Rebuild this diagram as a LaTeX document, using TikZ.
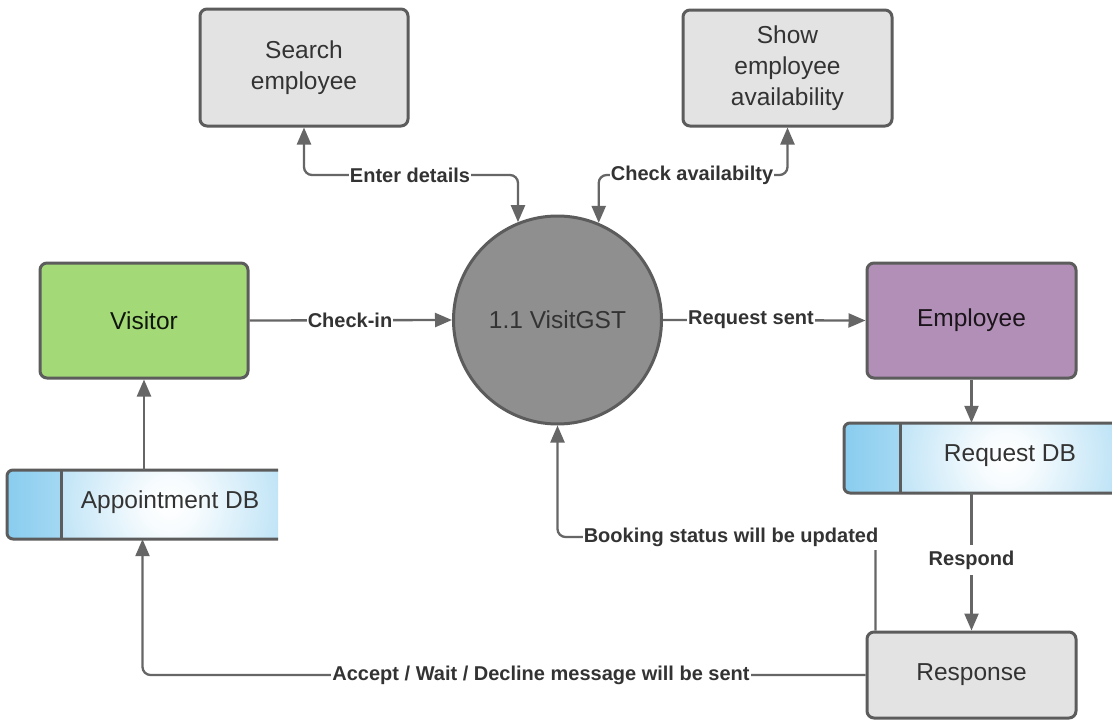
\documentclass[tikz,border=0pt]{standalone}
\usepackage{fontspec}
\setmainfont{Liberation Sans}
\usetikzlibrary{arrows.meta,calc}
\definecolor{bord}{HTML}{5C5C5C}
\definecolor{flowc}{HTML}{666666}
\definecolor{txt}{HTML}{333333}
\definecolor{boxgray}{HTML}{E3E3E3}
\definecolor{visgreen}{HTML}{A3D977}
\definecolor{emppurple}{HTML}{B28FB6}
\definecolor{circgray}{HTML}{8F8F8F}
\definecolor{dbblue}{HTML}{7CC7ED}
\pgfdeclareradialshading{dbshade}{\pgfpoint{0bp}{0bp}}{color(0bp)=(white); color(6bp)=(white!94!dbblue); color(50bp)=(dbblue)}
\begin{document}
\begin{tikzpicture}[x=1pt,y=-1pt,
  boxstyle/.style={draw=bord, line width=3pt, rounded corners=7pt, minimum width=209pt,
    minimum height=116pt, inner sep=0pt, align=center, text=txt,
    font=\fontsize{24.5}{31}\selectfont},
  circstyle/.style={circle, draw=bord, line width=3pt, fill=circgray, minimum size=208pt,
    inner sep=0pt, text=txt, font=\fontsize{24.5}{31}\selectfont},
  ghost/.style={draw=none, inner sep=0pt},
  dbtext/.style={text=txt, inner sep=0pt, font=\fontsize{24.5}{31}\selectfont},
  lab/.style={fill=white, inner xsep=1pt, inner ysep=2pt, text=txt,
    font=\bfseries\fontsize{20}{22}\selectfont},
  flow/.style={draw=flowc, line width=2.3pt, rounded corners=8pt,
    -{Triangle[length=17pt,width=14pt]}},
  flowboth/.style={draw=flowc, line width=2.3pt, rounded corners=8pt,
    {Triangle[length=17pt,width=14pt]}-{Triangle[length=17pt,width=14pt]}},
  dbborder/.style={draw=bord, line width=3pt}
]
\useasboundingbox (0,0) rectangle (1112,720);
\fill[white] (0,0) rectangle (1112,720);

% ---- boxes ----
\node[boxstyle, fill=boxgray, minimum width=208pt, minimum height=117pt] (search) at (304,67.5) {Search\\employee};
\node[boxstyle, fill=boxgray] (show) at (787.5,68) {Show\\employee\\availability};
\node[boxstyle, fill=visgreen, minimum width=208pt, minimum height=115pt, text=black!75!visgreen!40!black] (vis) at (144,320.5) {Visitor};
\node[boxstyle, fill=emppurple, minimum height=115pt, text=black!70!emppurple!50!black] (emp) at (971.5,320.5) {Employee};
\node[boxstyle, fill=boxgray, minimum height=86pt] (resp) at (971.5,675) {Response};
\node[circstyle] (circ) at (557.5,320) {1.1 VisitGST};

% ---- Appointment DB (data store) ----
\begin{scope}
  \clip (7,470) rectangle (278,539);
  \clip[rounded corners=6pt] (7,470) rectangle (300,539);
  \shade[left color=dbblue!90, right color=dbblue!70] (7,470) rectangle (61,539);
  \shade[shading=dbshade] (61,396) rectangle (278,613);
\end{scope}
\draw[dbborder, rounded corners=6pt] (278,470) -- (7,470) -- (7,539) -- (278,539);
\draw[dbborder] (61,470) -- (61,539);
\node[ghost, minimum width=271pt, minimum height=69pt] (appt) at (142.5,504.5) {};
\node[dbtext] (apptlabel) at (170,502) {Appointment DB};

% ---- Request DB (data store) ----
\begin{scope}
  \clip (844,423) rectangle (1112,493);
  \clip[rounded corners=6pt] (844,423) rectangle (1130,493);
  \shade[left color=dbblue!90, right color=dbblue!70] (844,423) rectangle (900,493);
  \shade[shading=dbshade] (900,352) rectangle (1112,564);
\end{scope}
\draw[dbborder, rounded corners=6pt] (1112,423) -- (844,423) -- (844,493) -- (1112,493);
\draw[dbborder] (900,423) -- (900,493);
\node[ghost, minimum width=268pt, minimum height=70pt] (reqdb) at (978,458) {};
\node[dbtext] (reqlabel) at (1010,456) {Request DB};

% ---- connectors ----
\coordinate (toplane) at (0,175);
\draw[flowboth] (search.south) |- (circ.112.6 |- toplane) -- (circ.112.6);
\node[lab] (l-enter) at (410,175) {Enter details};

\draw[flowboth] (circ.67) |- (show.south |- toplane) -- (show.south);
\node[lab] (l-check) at (692,175) {Check availabilty};

\draw[flow] (vis.east) -- (circ.west);
\node[lab] (l-checkin) at (350,320) {Check-in};

\draw[flow] (circ.east) -- (emp.west);
\node[lab] (l-req) at (751,320) {Request sent};

\draw[flow] (emp.south) -- (emp.south |- reqdb.north);

\draw[flow] (resp.north |- reqdb.south) -- (resp.north);
\node[lab, inner ysep=6pt] (l-respond) at (971.5,560) {Respond};

\coordinate (bkstart) at ($(resp.north west)+(10,0)$);
\coordinate (bkturn) at (557.5,537);
\draw[flow] (bkstart) |- (bkturn) -- (circ.south);
\node[lab, inner ysep=4pt] (l-book) at (731,537) {Booking status will be updated};

\draw[flow] (resp.west) -| (appt.south);
\node[lab] (l-accept) at (541,675) {Accept / Wait / Decline message will be sent};

\draw[flow] (vis.south |- appt.north) -- (vis.south);
\end{tikzpicture}
\end{document}
